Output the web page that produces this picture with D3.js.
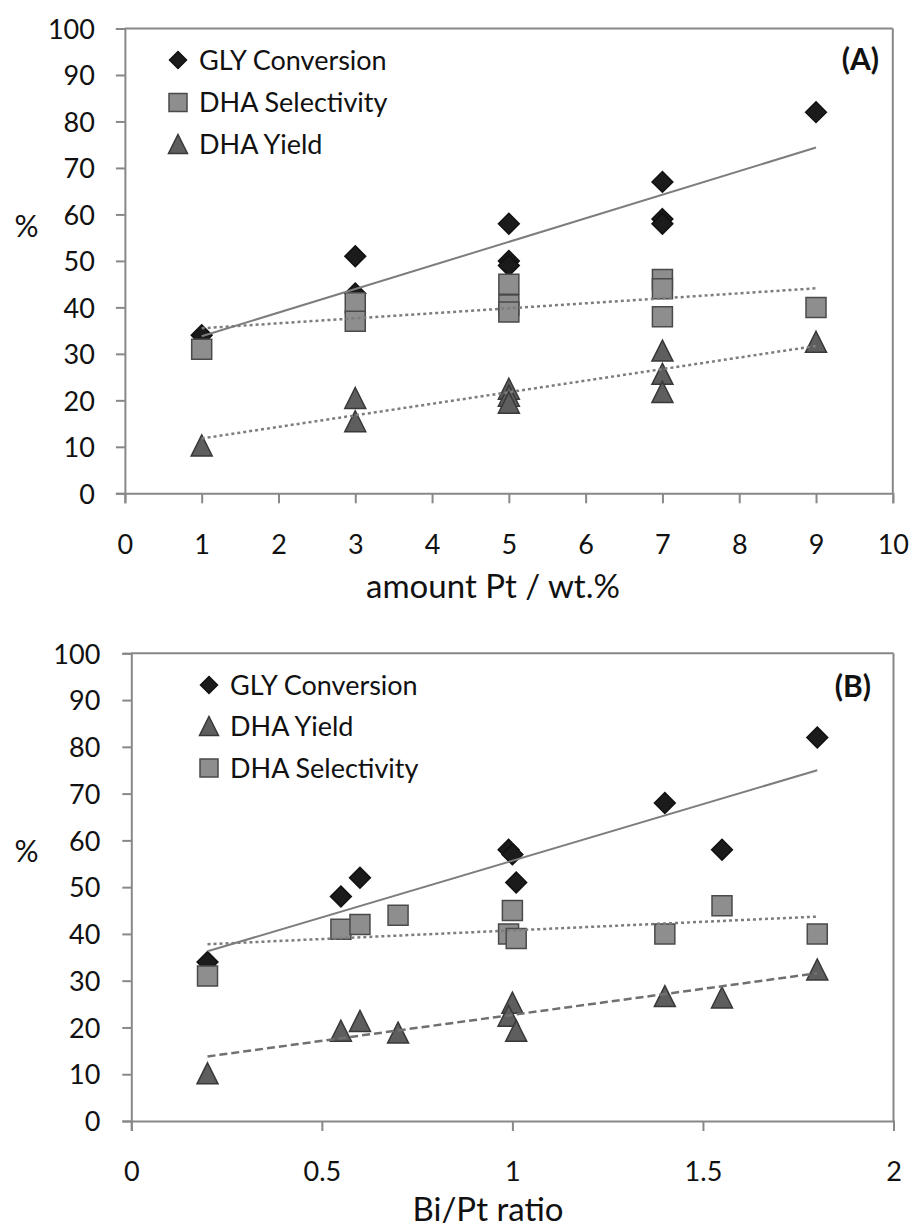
<!DOCTYPE html>
<html>
<head>
<meta charset="utf-8">
<script src="https://cdn.jsdelivr.net/npm/d3@7"></script>
<style>
  html, body { margin: 0; padding: 0; background: #ffffff; }
  svg { display: block; font-family: Lato, "Open Sans", sans-serif; }
</style>
</head>
<body>
<svg id="chart" width="910" height="1230"></svg>
<script>
// ---------------- DATA ----------------
// Panel A: amount Pt / wt.%
const glyA_x = [1, 3, 3, 5, 5, 5, 7, 7, 7, 9];
const glyA_y = [34, 51, 43, 58, 50, 49, 67, 59, 58, 82];
const selA_x = [1, 3, 3, 5, 5, 5, 7, 7, 7, 9];
const selA_y = [31, 41, 37, 45, 40.5, 39, 46, 44, 38, 40];
const yldA_x = [1, 3, 3, 5, 5, 5, 7, 7, 7, 9];
const yldA_y = [10.3, 20.5, 15.5, 22.5, 21, 19.5, 30.7, 25.7, 21.8, 32.6];
// trend lines (end points)
const trendA_gly = [[1, 33.8], [9, 74.4]];
const trendA_sel = [[1, 35.5], [9, 44.1]];
const trendA_yld = [[1, 11.8], [9, 31.7]];

// Panel B: Bi/Pt ratio
const glyB_x = [0.2, 0.55, 0.6, 0.99, 1.0, 1.01, 1.4, 1.55, 1.8];
const glyB_y = [34, 48, 52, 58, 57, 51, 68, 58, 82];
const yldB_x = [0.2, 0.55, 0.6, 0.7, 1.0, 0.99, 1.01, 1.4, 1.55, 1.8];
const yldB_y = [10.2, 19.3, 21.4, 18.9, 25.3, 22.5, 19.3, 26.7, 26.4, 32.4];
const selB_x = [0.2, 0.55, 0.6, 0.7, 1.0, 0.99, 1.01, 1.4, 1.55, 1.8];
const selB_y = [31, 41, 42, 44, 45, 40, 39, 40, 46, 40];
const trendB_gly = [[0.2, 36.3], [1.8, 75.0]];
const trendB_sel = [[0.2, 37.8], [1.8, 43.7]];
const trendB_yld = [[0.2, 13.8], [1.8, 31.6]];

// ticks
const yTicks = [0, 10, 20, 30, 40, 50, 60, 70, 80, 90, 100];
const xTicksA = [0, 1, 2, 3, 4, 5, 6, 7, 8, 9, 10];
const xTicksB = [0, 0.5, 1, 1.5, 2];

// labels
const seriesNames = { gly: "GLY Conversion", sel: "DHA Selectivity", yld: "DHA Yield" };
const xTitleA = "amount Pt / wt.%";
const xTitleB = "Bi/Pt ratio";
const yTitle = "%";

// ---------------- STYLE ----------------
const axisColor = "#888888";
const styles = {
  gly: { shape: "diamond", fill: "#1b1b1b", stroke: "#111111" },
  sel: { shape: "square", fill: "#8e8e8e", stroke: "#4a4a4a" },
  yld: { shape: "triangle", fill: "#5e5e5e", stroke: "#383838" }
};
function shapePath(shape, s) {
  if (shape === "diamond") return `M0,${-s}L${s},0L0,${s}L${-s},0Z`;
  if (shape === "square") return `M${-s},${-s}H${s}V${s}H${-s}Z`;
  return `M0,${-s}L${s},${s}L${-s},${s}Z`;
}
const markerSize = { diamond: 10.4, square: 10, triangle: 10.5 };
const legendSize = { diamond: 8.5, square: 9, triangle: 9.5 };

const svg = d3.select("#chart");
svg.append("rect").attr("width", 910).attr("height", 1230).attr("fill", "#fff");

function drawPanel(cfg) {
  const g = svg.append("g");
  const x = d3.scaleLinear().domain(cfg.xDomain).range(cfg.xRange);
  const y = d3.scaleLinear().domain([0, 100]).range(cfg.yRange);
  const [x0, x1] = cfg.xRange;
  const [yb, yt] = cfg.yRange;

  // frame (top & right)
  g.append("line").attr("x1", x0).attr("x2", x1).attr("y1", yt).attr("y2", yt)
    .attr("stroke", axisColor).attr("stroke-width", 2);
  g.append("line").attr("x1", x1).attr("x2", x1).attr("y1", yt).attr("y2", yb)
    .attr("stroke", axisColor).attr("stroke-width", 2);

  // y axis
  const ya = g.append("g").attr("transform", `translate(${x0},0)`)
    .call(d3.axisLeft(y).tickValues(yTicks).tickSize(9).tickPadding(cfg.yPad).tickFormat(d3.format("d")));
  // x axis
  const xa = g.append("g").attr("transform", `translate(0,${yb})`)
    .call(d3.axisBottom(x).tickValues(cfg.xTicks).tickSize(10).tickFormat(cfg.xFormat));
  [ya, xa].forEach(a => {
    a.select(".domain").attr("stroke", axisColor).attr("stroke-width", 2);
    a.selectAll(".tick line").attr("stroke", axisColor).attr("stroke-width", 2);
    a.selectAll(".tick text").attr("fill", "#111").attr("font-size", 27)
      .attr("font-family", "Lato, sans-serif");
  });
  ya.selectAll(".tick text").attr("dy", "0.36em");
  xa.selectAll(".tick text").attr("y", cfg.xLabOff).attr("dy", "0.36em");

  // titles
  g.append("text").attr("x", cfg.xTitlePos[0]).attr("y", cfg.xTitlePos[1])
    .attr("text-anchor", "middle").attr("font-size", 33).attr("fill", "#111").text(cfg.xTitle);
  g.append("text").attr("x", 26.5).attr("y", cfg.yTitleY).attr("dy", "0.36em")
    .attr("text-anchor", "middle").attr("font-size", 30).attr("fill", "#111").text(yTitle);
  g.append("text").attr("x", cfg.tagPos[0]).attr("y", cfg.tagPos[1]).attr("dy", "0.36em")
    .attr("text-anchor", "end").attr("font-size", 30).attr("font-weight", "bold")
    .attr("fill", "#111").text(cfg.tag);

  // markers
  cfg.series.forEach(s => {
    const st = styles[s.key];
    const pts = s.xs.map((v, i) => [v, s.ys[i]]);
    g.append("g").selectAll("path").data(pts).join("path")
      .attr("transform", d => `translate(${x(d[0])},${y(d[1])})`)
      .attr("d", shapePath(st.shape, markerSize[st.shape]))
      .attr("fill", st.fill).attr("stroke", st.stroke).attr("stroke-width", 1.5);
  });

  // trend lines
  const line = d3.line().x(d => x(d[0])).y(d => y(d[1]));
  cfg.trends.forEach(t => {
    g.append("path").datum(t.data).attr("d", line).attr("fill", "none")
      .attr("stroke", t.color).attr("stroke-width", t.width)
      .attr("stroke-dasharray", t.dash || null);
  });

  // legend
  cfg.legend.forEach((k, i) => {
    const st = styles[k];
    const ly = cfg.legendY[i];
    g.append("path").attr("transform", `translate(${cfg.legendX},${ly})`)
      .attr("d", shapePath(st.shape, legendSize[st.shape]))
      .attr("fill", st.fill).attr("stroke", st.stroke).attr("stroke-width", 1.5);
    g.append("text").attr("x", cfg.legendX + 21).attr("y", ly).attr("dy", "0.36em")
      .attr("font-size", 27).attr("fill", "#111").text(seriesNames[k]);
  });
}

drawPanel({
  xDomain: [0, 10], xRange: [124.9, 892.8], yRange: [493.3, 28.5],
  xTicks: xTicksA, xFormat: d3.format("d"), yPad: 21, xLabOff: 51,
  xTitle: xTitleA, xTitlePos: [493, 598], yTitleY: 226,
  tag: "(A)", tagPos: [879, 59],
  series: [
    { key: "gly", xs: glyA_x, ys: glyA_y },
    { key: "sel", xs: selA_x, ys: selA_y },
    { key: "yld", xs: yldA_x, ys: yldA_y }
  ],
  trends: [
    { data: trendA_gly, color: "#7d7d7d", width: 2 },
    { data: trendA_sel, color: "#7d7d7d", width: 2.5, dash: "3,3" },
    { data: trendA_yld, color: "#7d7d7d", width: 2.5, dash: "3,3" }
  ],
  legend: ["gly", "sel", "yld"], legendX: 178, legendY: [60, 102.5, 144]
});

drawPanel({
  xDomain: [0, 2], xRange: [131.3, 893.5], yRange: [1121, 653.3],
  xTicks: xTicksB, xFormat: d => d3.format("")(d), yPad: 22, xLabOff: 50,
  xTitle: xTitleB, xTitlePos: [488, 1221], yTitleY: 851,
  tag: "(B)", tagPos: [871, 686],
  series: [
    { key: "gly", xs: glyB_x, ys: glyB_y },
    { key: "yld", xs: yldB_x, ys: yldB_y },
    { key: "sel", xs: selB_x, ys: selB_y }
  ],
  trends: [
    { data: trendB_gly, color: "#7d7d7d", width: 2 },
    { data: trendB_sel, color: "#7d7d7d", width: 2.5, dash: "3,3" },
    { data: trendB_yld, color: "#707070", width: 2.5, dash: "8,4" }
  ],
  legend: ["gly", "yld", "sel"], legendX: 209, legendY: [685, 726, 768]
});
</script>
</body>
</html>
